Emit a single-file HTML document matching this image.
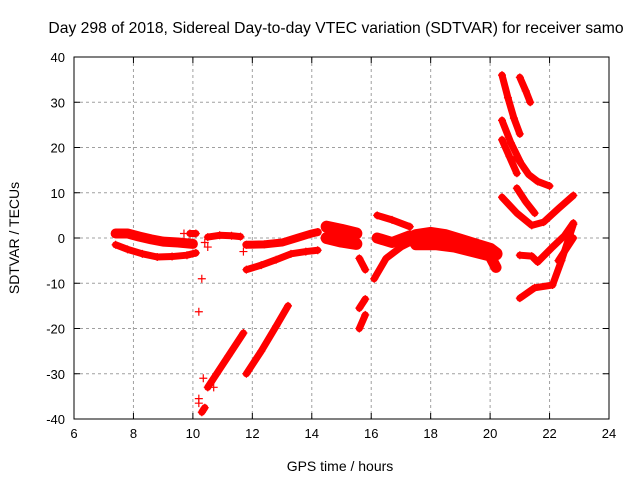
<!DOCTYPE html>
<html><head><meta charset="utf-8"><style>
body{margin:0;background:#fff}
svg{display:block;font-family:"Liberation Sans",Arial,sans-serif}
</style></head><body>
<svg id="chart" width="640" height="480">
<g id="grid"></g>
<g id="series"></g>
<g id="axes"></g>
<text x="336" y="33" font-size="15.7" text-anchor="middle">Day 298 of 2018, Sidereal Day-to-day VTEC variation (SDTVAR) for receiver samo</text>
<text x="340" y="471" font-size="14" text-anchor="middle">GPS time / hours</text>
<text x="19" y="238" font-size="14" text-anchor="middle" transform="rotate(-90 19 238)">SDTVAR / TECUs</text>
</svg>
<script>
const xTicks=[6,8,10,12,14,16,18,20,22,24];
const yTicks=[-40,-30,-20,-10,0,10,20,30,40];
const segA1=[[7.4,1],[7.8,1],[8.2,0.3],[8.6,-0.3],[9,-0.8],[9.5,-1],[10,-1.3]];
const segA2=[[7.4,-1.5],[7.8,-2.5],[8.3,-3.5],[8.8,-4.2],[9.3,-4.1],[9.8,-3.8],[10.1,-3.3]];
const segB=[[9.9,1],[10.1,1]];
const segC=[[10.5,0.2],[10.9,0.6],[11.3,0.5],[11.6,0.3]];
const segD1=[[11.8,-1.5],[12.4,-1.4],[13,-1],[13.5,0],[14,1],[14.2,1.3]];
const segD2=[[11.8,-7],[12.3,-6],[12.8,-4.8],[13.3,-3.5],[13.8,-3],[14.2,-2.7]];
const segE1=[[14.5,2.5],[15,1.8],[15.5,1]];
const segE2=[[14.5,0],[15,-0.8],[15.5,-1.3]];
const segF1=[[15.6,-4.5],[15.8,-7]];
const segF2=[[15.6,-15.5],[15.8,-13.5]];
const segF3=[[15.6,-20],[15.8,-17]];
const segG1=[[16.2,5],[16.7,4],[17.3,2.5]];
const segG2=[[16.2,0],[16.7,-1],[17.3,0.5]];
const segG3=[[16.1,-9],[16.5,-4.5],[17,-2],[17.3,-1]];
const segH1=[[17.5,0.5],[18,1],[18.5,0.5],[19,-0.5],[19.5,-1.5],[20,-2.5],[20.2,-3.5]];
const segH2=[[17.5,-1.5],[18.2,-1.5],[18.8,-2],[19.4,-3],[20,-4],[20.2,-6.5]];
const segI1=[[20.4,36],[20.6,31],[20.8,26.5],[21,23]];
const segI2=[[21,35.5],[21.2,32.5],[21.35,30]];
const segI3=[[20.4,26],[20.7,21],[21,17]];
const segI4=[[20.4,21.7],[20.65,18],[20.9,14.3]];
const segI5=[[20.9,17.8],[21.3,14],[21.6,12.5],[22,11.5]];
const segI6=[[20.9,11],[21.2,8],[21.5,5.5]];
const segI7=[[20.4,9],[20.9,5.5],[21.4,2.8],[21.8,3.5],[22.3,6.5],[22.8,9.4]];
const segI8=[[21,-3.8],[21.4,-4],[21.6,-5.3],[22.1,-2],[22.5,0.5],[22.8,3.3]];
const segI9=[[21,-13.3],[21.5,-11],[22.1,-10.4],[22.4,-5],[22.8,3]];
const segI10=[[22.3,-5],[22.8,0]];
const segL1=[[10.5,-33],[10.8,-30],[11.2,-26],[11.7,-21]];
const segL2=[[11.8,-30],[12.3,-25],[12.8,-19.5],[13.2,-15]];
const segL3=[[10.3,-38.5],[10.4,-37.5]];
const scatter=[[10.2,-16.3],[10.3,-9],[10.2,-35.5],[10.2,-36.5],[10.35,-31],[10.7,-33],[9.7,1],[10.4,-1],[10.5,-2],[11.7,-3]];
const segments=[segA1,segA2,segB,segC,segD1,segD2,segE1,segE2,segF1,segF2,segF3,segG1,segG2,segG3,segH1,segH2,segI1,segI2,segI3,segI4,segI5,segI6,segI7,segI8,segI9,segI10,segL1,segL2,segL3];
const widths=[10,7,7,7,8,7,12,12,7,7,7,7,11,7,13,11,7,7,7,7,7,7,7,7,7,7,7,7,7];

const X0=74,X1=609,Y0=419,Y1=57;
const sx=h=>X0+(h-6)/(24-6)*(X1-X0);
const sy=v=>Y0-(v+40)/80*(Y0-Y1);
const NS='http://www.w3.org/2000/svg';
function mk(t,a,p){const e=document.createElementNS(NS,t);for(const k in a)e.setAttribute(k,a[k]);p.appendChild(e);return e;}
const grid=document.getElementById('grid'),axes=document.getElementById('axes'),ser=document.getElementById('series');
xTicks.forEach(t=>{const x=sx(t);
 if(t>6&&t<24){const g=mk('line',{x1:x,x2:x,y1:Y1,y2:Y0,stroke:'#a0a0a0','stroke-dasharray':'3,3'},grid);
 
 }
 mk('line',{x1:x,x2:x,y1:Y0,y2:Y0-6,stroke:'#000'},axes);mk('line',{x1:x,x2:x,y1:Y1,y2:Y1+6,stroke:'#000'},axes);
 const l=mk('text',{x:x,y:Y0+19,'font-size':13,'text-anchor':'middle'},axes);l.textContent=t;
 
 });
yTicks.forEach(t=>{const y=sy(t);
 if(t>-40&&t<40){const g=mk('line',{x1:X0,x2:X1,y1:y,y2:y,stroke:'#a0a0a0','stroke-dasharray':'3,3'},grid);
 
 }
 mk('line',{x1:X0,x2:X0+6,y1:y,y2:y,stroke:'#000'},axes);mk('line',{x1:X1,x2:X1-6,y1:y,y2:y,stroke:'#000'},axes);
 const l=mk('text',{x:X0-9,y:y+5,'font-size':13,'text-anchor':'end'},axes);l.textContent=t;
 
 });
const frame=mk('rect',{x:X0,y:Y1,width:X1-X0,height:Y0-Y1,fill:'none',stroke:'#000'},axes);


function plus(h,v){const x=sx(h),y=sy(v);mk('path',{d:`M${x-4},${y}h8M${x},${y-4}v8`,stroke:'#f00','stroke-width':1.2},ser);}
segments.forEach((s,i)=>{
 const pl=mk('polyline',{points:s.map(p=>sx(p[0])+','+sy(p[1])).join(' '),fill:'none',stroke:'#f00','stroke-width':widths[i],'stroke-linejoin':'round','stroke-linecap':'round'},ser);
 
 
 s.forEach(p=>plus(p[0],p[1]));});
scatter.forEach(p=>plus(p[0],p[1]));
</script>
</body></html>
